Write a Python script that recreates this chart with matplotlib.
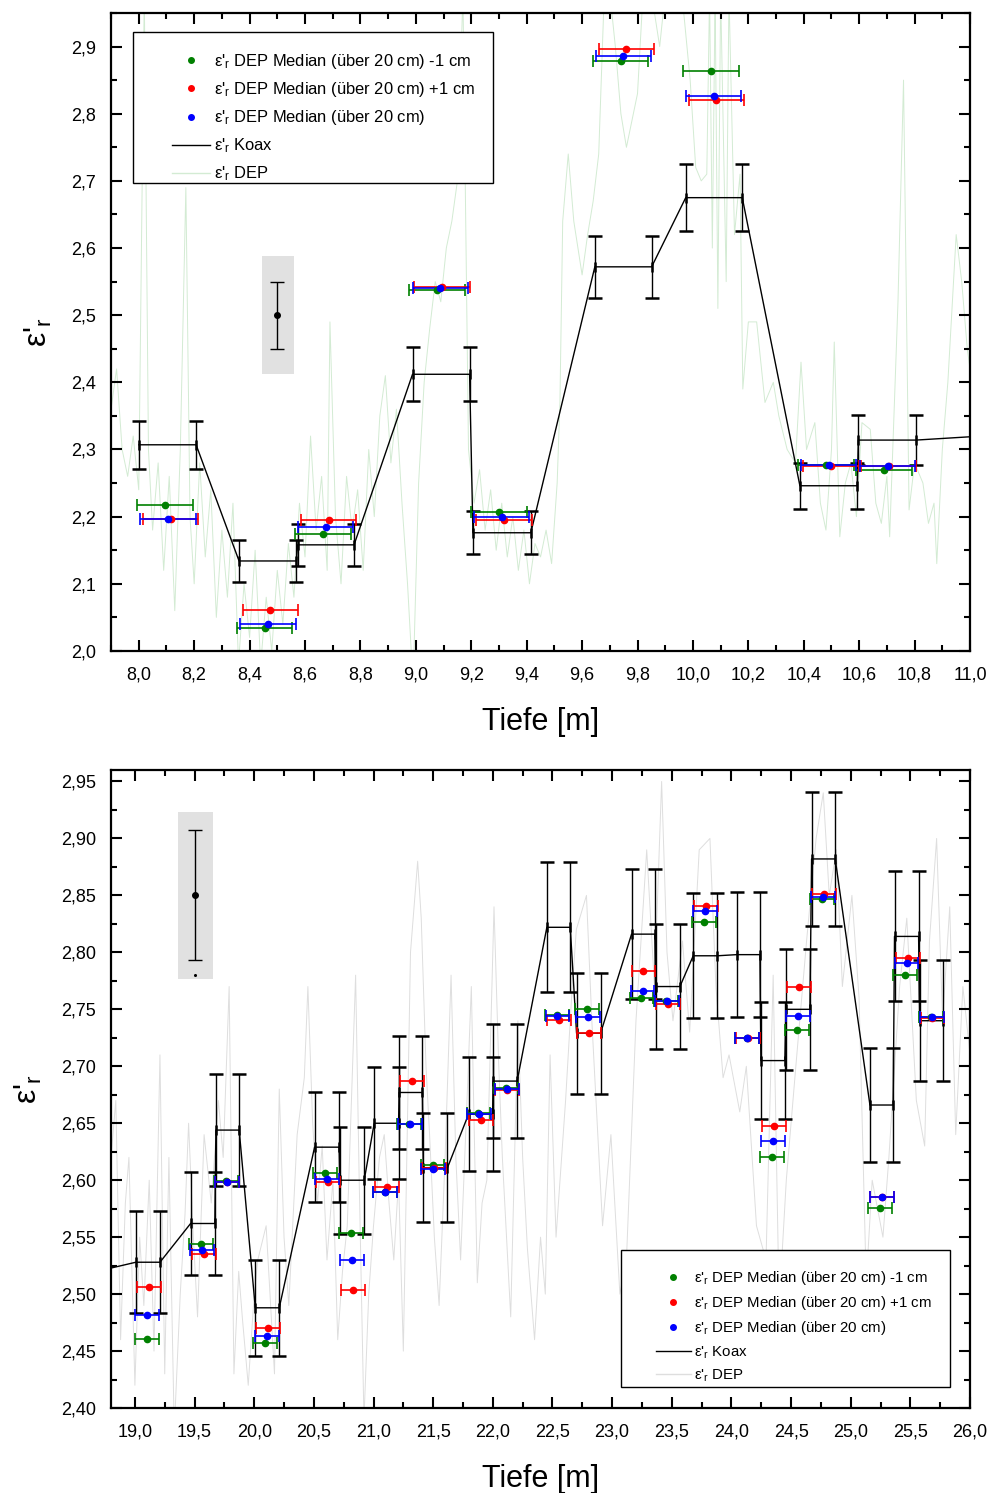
import numpy as np
import matplotlib
matplotlib.use("Agg")
import matplotlib.pyplot as plt
from matplotlib.lines import Line2D
from matplotlib.patches import Rectangle
from matplotlib.ticker import MultipleLocator, FuncFormatter

plt.rcParams['font.family'] = ['Liberation Sans', 'DejaVu Sans']
plt.rcParams['mathtext.default'] = 'regular'

GREEN = '#008000'
RED = '#ff0000'
BLUE = '#0000ff'
EPS = "ε'$_{r}$"

# ---------------- top panel (8 - 11 m) ----------------
top_trace_x = [7.90, 7.92, 7.94, 7.96, 7.98, 8.00, 8.02, 8.035, 8.05, 8.07, 8.09, 8.11, 8.13, 8.15,
               8.17, 8.185, 8.20, 8.22, 8.24, 8.26, 8.28, 8.30, 8.32, 8.34, 8.36, 8.38, 8.40, 8.42,
               8.44, 8.46, 8.48, 8.50, 8.52, 8.54, 8.56, 8.58, 8.60, 8.62, 8.64, 8.66, 8.68, 8.69,
               8.71, 8.73, 8.75, 8.77, 8.79, 8.81, 8.83, 8.85, 8.87, 8.89, 8.91, 8.93, 8.95, 8.97,
               8.99, 9.01, 9.03, 9.05, 9.07, 9.09, 9.11, 9.13, 9.15, 9.17, 9.19, 9.21, 9.23, 9.25,
               9.27, 9.29, 9.31, 9.33, 9.35, 9.37, 9.39, 9.41, 9.43, 9.45, 9.47, 9.49, 9.51, 9.52,
               9.53, 9.55, 9.57, 9.60, 9.62, 9.64, 9.66, 9.68, 9.70, 9.72, 9.74, 9.76, 9.78, 9.80,
               9.82, 9.85, 9.88, 9.90, 9.93, 9.96, 9.99, 10.01, 10.03, 10.05, 10.06, 10.07, 10.08,
               10.09, 10.10, 10.12, 10.13, 10.15, 10.17, 10.18, 10.20, 10.23, 10.26, 10.29, 10.31,
               10.34, 10.37, 10.39, 10.41, 10.44, 10.46, 10.48, 10.50, 10.51, 10.53, 10.55, 10.57,
               10.59, 10.61, 10.64, 10.66, 10.68, 10.70, 10.71, 10.74, 10.76, 10.78, 10.80, 10.83,
               10.85, 10.87, 10.88, 10.90, 10.92, 10.95, 10.97, 10.99, 11.00]
top_trace_y = [2.36, 2.42, 2.30, 2.26, 2.32, 2.24, 2.98, 2.30, 2.18, 2.28, 2.12, 2.26, 2.06, 2.30,
               2.69, 2.20, 2.10, 2.28, 2.14, 2.24, 2.05, 2.18, 2.08, 2.22, 1.98, 2.10, 2.02, 2.15,
               1.98, 2.08, 2.00, 2.12, 2.04, 2.16, 2.08, 2.22, 2.14, 2.32, 2.18, 2.26, 2.12, 2.49,
               2.20, 2.10, 2.26, 2.18, 2.24, 2.12, 2.30, 2.20, 2.35, 2.41, 2.28, 2.36, 2.22, 2.10,
               1.95, 2.25, 2.40, 2.48, 2.55, 2.52, 2.60, 2.64, 2.70, 2.98, 2.30, 2.22, 2.27, 2.18,
               2.24, 2.15, 2.22, 2.14, 2.20, 2.12, 2.18, 2.10, 2.16, 2.14, 2.18, 2.13, 2.25, 2.37,
               2.64, 2.74, 2.64, 2.56, 2.62, 2.67, 2.74, 2.98, 2.98, 2.90, 2.80, 2.75, 2.79, 2.83,
               2.98, 2.98, 2.90, 2.98, 2.96, 2.98, 2.85, 2.72, 2.70, 2.71, 2.98, 2.60, 2.98,
               2.51, 2.98, 2.55, 2.98, 2.62, 2.71, 2.39, 2.49, 2.49, 2.37, 2.40, 2.35,
               2.30, 2.28, 2.43, 2.30, 2.34, 2.22, 2.18, 2.30, 2.46, 2.17, 2.25, 2.28,
               2.20, 2.34, 2.33, 2.22, 2.19, 2.26, 2.17, 2.52, 2.85, 2.21, 2.28, 2.25,
               2.19, 2.22, 2.13, 2.30, 2.40, 2.62, 2.55, 2.45, 2.42]

top_koax_x = [8.001, 8.207, 8.362, 8.569, 8.573, 8.777, 8.988, 9.194, 9.206, 9.415,
              9.646, 9.851, 9.974, 10.178, 10.386, 10.593, 10.597, 10.805, 11.20]
top_koax_y = [2.307, 2.307, 2.134, 2.134, 2.158, 2.158, 2.412, 2.412, 2.176, 2.176,
              2.572, 2.572, 2.675, 2.675, 2.246, 2.246, 2.314, 2.314, 2.324]
top_koax_err = [0.036, 0.036, 0.031, 0.031, 0.031, 0.031, 0.040, 0.040, 0.032, 0.032,
                0.046, 0.046, 0.050, 0.050, 0.034, 0.034, 0.037, 0.037, 0.037]

top_minus_x = [8.095, 8.454, 8.665, 9.076, 9.300, 9.739, 10.065, 10.480, 10.690]
top_minus_y = [2.218, 2.0335, 2.174, 2.537, 2.207, 2.878, 2.863, 2.277, 2.269]
top_plus_x = [8.115, 8.475, 8.685, 9.095, 9.318, 9.760, 10.085, 10.498, 10.706]
top_plus_y = [2.196, 2.061, 2.195, 2.542, 2.195, 2.896, 2.821, 2.2755, 2.275]
top_med_x = [8.106, 8.466, 8.675, 9.088, 9.310, 9.749, 10.075, 10.490, 10.703]
top_med_y = [2.197, 2.0395, 2.185, 2.541, 2.199, 2.886, 2.826, 2.2765, 2.276]

top_box = [8.444, 8.560, 2.412, 2.5875]
top_ref = [8.50, 2.50, 0.05]

# ---------------- bottom panel (19 - 26 m) ----------------
bot_trace_x = [18.80, 18.84, 18.88, 18.92, 18.95, 19.00, 19.04, 19.075, 19.12, 19.16, 19.21, 19.25,
               19.285, 19.33, 19.38, 19.42, 19.45, 19.49, 19.525, 19.58, 19.64, 19.70, 19.74, 19.79,
               19.83, 19.87, 19.90, 19.95, 20.00, 20.03, 20.10, 20.17, 20.21, 20.25, 20.29, 20.36,
               20.42, 20.45, 20.49, 20.53, 20.57, 20.61, 20.66, 20.70, 20.74, 20.78, 20.85, 20.88,
               20.92, 20.96, 21.00, 21.05, 21.09, 21.13, 21.17, 21.21, 21.25, 21.31, 21.37, 21.40,
               21.44, 21.47, 21.51, 21.55, 21.60, 21.65, 21.69, 21.73, 21.78, 21.82, 21.87, 21.91,
               21.95, 22.01, 22.05, 22.08, 22.15, 22.21, 22.25, 22.29, 22.35, 22.40, 22.44, 22.48,
               22.53, 22.61, 22.66, 22.70, 22.785, 22.83, 22.88, 22.92, 22.99, 23.065, 23.12, 23.20,
               23.29, 23.355, 23.415, 23.46, 23.51, 23.59, 23.65, 23.73, 23.82, 23.87, 23.93, 23.98,
               24.07, 24.125, 24.21, 24.29, 24.35, 24.40, 24.46, 24.54, 24.63, 24.71, 24.77, 24.82,
               24.88, 24.93, 25.01, 25.07, 25.13, 25.18, 25.27, 25.32, 25.41, 25.47, 25.55, 25.62,
               25.66, 25.72, 25.77, 25.83, 25.88, 25.94, 26.00]
bot_trace_y = [2.62, 2.67, 2.46, 2.58, 2.62, 2.42, 2.55, 2.49, 2.60, 2.45, 2.71, 2.43,
               2.62, 2.38, 2.50, 2.57, 2.65, 2.55, 2.48, 2.64, 2.58, 2.67, 2.62, 2.77,
               2.43, 2.52, 2.48, 2.42, 2.50, 2.53, 2.56, 2.43, 2.68, 2.55, 2.49, 2.64,
               2.69, 2.77, 2.65, 2.58, 2.63, 2.53, 2.60, 2.46, 2.52, 2.56, 2.78, 2.60,
               2.39, 2.50, 2.56, 2.62, 2.64, 2.58, 2.53, 2.60, 2.45, 2.80, 2.88, 2.83,
               2.70, 2.64, 2.55, 2.49, 2.62, 2.78, 2.62, 2.53, 2.66, 2.77, 2.51, 2.58,
               2.60, 2.84, 2.70, 2.62, 2.48, 2.74, 2.62, 2.54, 2.46, 2.55, 2.50, 2.71,
               2.55, 2.67, 2.76, 2.82, 2.85, 2.74, 2.64, 2.56, 2.64, 2.50, 2.53, 2.74,
               2.89, 2.77, 2.95, 2.80, 2.74, 2.81, 2.73, 2.89, 2.90, 2.77, 2.69, 2.71,
               2.66, 2.70, 2.56, 2.53, 2.78, 2.49, 2.60, 2.70, 2.81, 2.90, 2.94, 2.85,
               2.89, 2.77, 2.85, 2.76, 2.51, 2.60, 2.55, 2.62, 2.77, 2.83, 2.67, 2.63,
               2.81, 2.90, 2.74, 2.84, 2.64, 2.77, 2.71]

bot_koax_start = [19.008, 19.467, 19.679, 20.009, 20.506, 20.718, 21.006, 21.215, 21.417, 21.797,
                  22.003, 22.453, 22.702, 23.163, 23.364, 23.680, 24.043, 24.247, 24.457, 24.672,
                  25.161, 25.367, 25.577]
bot_koax_end = [19.210, 19.670, 19.874, 20.210, 20.712, 20.922, 21.210, 21.410, 21.620, 21.998,
                22.204, 22.649, 22.903, 23.358, 23.568, 23.883, 24.239, 24.448, 24.658, 24.870,
                25.356, 25.569, 25.776]
bot_koax_val = [2.528, 2.562, 2.644, 2.488, 2.629, 2.600, 2.650, 2.677, 2.611, 2.658,
                2.687, 2.822, 2.729, 2.816, 2.770, 2.797, 2.798, 2.705, 2.750, 2.882,
                2.666, 2.814, 2.740]
bot_koax_err = [0.045, 0.045, 0.049, 0.042, 0.048, 0.047, 0.049, 0.050, 0.048, 0.050,
                0.050, 0.057, 0.053, 0.057, 0.055, 0.055, 0.055, 0.051, 0.053, 0.059,
                0.050, 0.057, 0.053]
bot_koax_lead = [18.60, 2.518, 0.045]   # previous point, left of the axis

bot_minus_x = [19.098, 19.556, 19.765, 20.092, 20.595, 20.808, 21.095, 21.300, 21.495, 21.880, 22.110,
               22.535, 22.789, 23.246, 23.455, 23.770, 24.128, 24.342, 24.549, 24.758, 25.245,
               25.457, 25.672]
bot_minus_y = [2.461, 2.544, 2.599, 2.457, 2.606, 2.554, 2.590, 2.649, 2.613, 2.659, 2.681,
               2.745, 2.750, 2.760, 2.757, 2.827, 2.725, 2.620, 2.732, 2.847, 2.576,
               2.780, 2.743]
bot_plus_x = [19.117, 19.578, 19.775, 20.115, 20.620, 20.830, 21.110, 21.320, 21.510, 21.898, 22.120,
              22.557, 22.808, 23.263, 23.470, 23.790, 24.140, 24.359, 24.566, 24.775, 25.265,
              25.477, 25.685]
bot_plus_y = [2.506, 2.535, 2.598, 2.470, 2.598, 2.504, 2.594, 2.687, 2.611, 2.653, 2.679,
              2.741, 2.729, 2.784, 2.755, 2.841, 2.725, 2.648, 2.770, 2.851, 2.585,
              2.795, 2.742]
bot_med_x = [19.103, 19.564, 19.774, 20.104, 20.610, 20.819, 21.098, 21.305, 21.500, 21.886, 22.116,
             22.542, 22.797, 23.255, 23.460, 23.780, 24.134, 24.348, 24.557, 24.767, 25.262,
             25.468, 25.678]
bot_med_y = [2.482, 2.539, 2.598, 2.463, 2.601, 2.530, 2.590, 2.649, 2.610, 2.658, 2.680,
             2.744, 2.743, 2.766, 2.757, 2.836, 2.725, 2.634, 2.744, 2.849, 2.585,
             2.791, 2.743]

bot_box = [19.360, 19.654, 2.777, 2.923]
bot_ref = [19.50, 2.85, 0.057]

MED_HALF_WIDTH = 0.1   # median over 20 cm


def comma(decimals):
    return FuncFormatter(lambda v, pos: f"{v:.{decimals}f}".replace('.', ','))


def draw_panel(ax, trace_x, trace_y, trace_color, koax_x, koax_y, koax_err,
               series, box, ref):
    # raw DEP trace
    ax.plot(trace_x, trace_y, color=trace_color, lw=0.7, zorder=1)

    # reference error box
    ax.add_patch(Rectangle((box[0], box[2]), box[1] - box[0], box[3] - box[2],
                           facecolor='#e1e1e1', edgecolor='none', zorder=1.5))
    ax.errorbar([ref[0]], [ref[1]], yerr=[ref[2]], fmt='o', ms=4, color='black',
                elinewidth=1, capsize=5, capthick=1, zorder=2)

    # coax measurement
    ax.errorbar(koax_x, koax_y, yerr=koax_err, fmt='-', marker='|', ms=7, mew=1.8,
                color='black', lw=1, elinewidth=1, capsize=5, capthick=1, zorder=2.5)

    # DEP medians
    for xs, ys, c in series:
        ax.errorbar(xs, ys, xerr=MED_HALF_WIDTH, fmt='o', ms=4.5, color=c,
                    elinewidth=1.2, capsize=4, capthick=1.2, zorder=3)

    ax.tick_params(which='both', direction='in', top=True, right=True, width=1.5,
                   labelsize=13, pad=11)
    ax.tick_params(which='major', length=8)
    ax.tick_params(which='minor', length=4.5)
    for s in ax.spines.values():
        s.set_linewidth(1.6)
    ax.set_xlabel('Tiefe [m]', fontsize=22, labelpad=17)
    ax.set_ylabel(EPS, fontsize=23, labelpad=12)


def add_legend(ax, trace_color, frame, anchor, fontsize, spacing):
    handles = [
        Line2D([], [], ls='none', marker='o', ms=4, color=GREEN),
        Line2D([], [], ls='none', marker='o', ms=4, color=RED),
        Line2D([], [], ls='none', marker='o', ms=4, color=BLUE),
        Line2D([], [], color='black', lw=1),
        Line2D([], [], color=trace_color, lw=1),
    ]
    labels = [EPS + ' DEP Median (über 20 cm) -1 cm',
              EPS + ' DEP Median (über 20 cm) +1 cm',
              EPS + ' DEP Median (über 20 cm)',
              EPS + ' Koax',
              EPS + ' DEP']
    ax.add_patch(Rectangle((frame[0], frame[1]), frame[2] - frame[0], frame[3] - frame[1],
                           transform=ax.transAxes, facecolor='white', edgecolor='black',
                           lw=1, zorder=4.5))
    ax.legend(handles, labels, loc='upper left', bbox_to_anchor=anchor, frameon=False,
              fontsize=fontsize, handlelength=2.3, handletextpad=0.25,
              labelspacing=spacing, borderpad=0, borderaxespad=0)


fig = plt.figure(figsize=(9.95, 14.93), dpi=100)
ax1 = fig.add_axes([0.1116, 0.5640, 0.8633, 0.4273])
ax2 = fig.add_axes([0.1116, 0.0569, 0.8633, 0.4273])

# top panel
draw_panel(ax1, top_trace_x, top_trace_y, '#d3ebd3', top_koax_x, top_koax_y, top_koax_err,
           [(top_minus_x, top_minus_y, GREEN), (top_plus_x, top_plus_y, RED),
            (top_med_x, top_med_y, BLUE)], top_box, top_ref)
ax1.set_xlim(7.9, 11.0)
ax1.set_ylim(2.0, 2.95)
ax1.xaxis.set_major_locator(MultipleLocator(0.2))
ax1.xaxis.set_minor_locator(MultipleLocator(0.1))
ax1.yaxis.set_major_locator(MultipleLocator(0.1))
ax1.yaxis.set_minor_locator(MultipleLocator(0.05))
ax1.xaxis.set_major_formatter(comma(1))
ax1.yaxis.set_major_formatter(comma(1))
add_legend(ax1, '#d3ebd3', [0.0256, 0.7335, 0.4447, 0.9702], (0.071, 0.939), 11.9, 0.56)

# bottom panel
koax_x = [bot_koax_lead[0]] + list(np.column_stack([bot_koax_start, bot_koax_end]).ravel())
koax_y = [bot_koax_lead[1]] + list(np.repeat(bot_koax_val, 2))
koax_e = [bot_koax_lead[2]] + list(np.repeat(bot_koax_err, 2))
draw_panel(ax2, bot_trace_x, bot_trace_y, '#dedede', koax_x, koax_y, koax_e,
           [(bot_minus_x, bot_minus_y, GREEN), (bot_plus_x, bot_plus_y, RED),
            (bot_med_x, bot_med_y, BLUE)], bot_box, bot_ref)
ax2.plot([bot_ref[0]], [bot_box[2] + 0.0035], 'o', ms=1.2, color='black', zorder=2)
ax2.set_xlim(18.8, 26.0)
ax2.set_ylim(2.40, 2.96)
ax2.xaxis.set_major_locator(MultipleLocator(0.5))
ax2.xaxis.set_minor_locator(MultipleLocator(0.25))
ax2.yaxis.set_major_locator(MultipleLocator(0.05))
ax2.yaxis.set_minor_locator(MultipleLocator(0.025))
ax2.xaxis.set_major_formatter(comma(1))
ax2.yaxis.set_major_formatter(comma(2))
add_legend(ax2, '#dedede', [0.5937, 0.0329, 0.9767, 0.2476], (0.6345, 0.218), 10.8, 0.47)

fig.savefig('out.png', dpi=100)
